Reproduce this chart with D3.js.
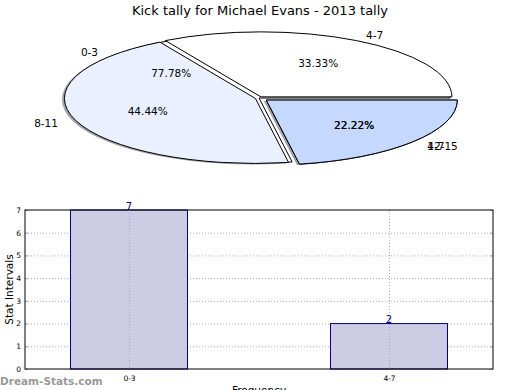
<!DOCTYPE html>
<html>
<head>
<meta charset="utf-8">
<script src="https://cdn.jsdelivr.net/npm/d3@7"></script>
<style>
  body { margin: 0; background: #fff; }
  svg { display: block; font-family: "DejaVu Sans", sans-serif; }
</style>
</head>
<body>
<div id="chart"></div>
<script>
// pie, first layer (kick counts)
var pieALabels = ["0-3", "4-7"];
var pieAValues = [7, 2];
var pieAExplode = [0, 0.05];
var pieAColors = ["#ffffff", "#eaf0ff"];

// pie, second layer
var pieBLabels = ["4-7", "8-11", "12-15"];
var pieBValues = [3, 4, 2];
var pieBExplode = [0.02, 0.02, 0.05];
var pieBColors = ["#ffffff", "#eaf0ff", "#c5d8ff"];

// bar chart
var barLabels = ["0-3", "4-7"];
var barValues = [7, 2];
var yTicks = [0, 1, 2, 3, 4, 5, 6, 7];

var width = 520, height = 390;

var svg = d3.select("#chart").append("svg")
    .attr("width", width)
    .attr("height", height);

svg.append("text")
    .attr("x", 260).attr("y", 15)
    .attr("text-anchor", "middle")
    .style("font-size", "13px")
    .text("Kick tally for Michael Evans - 2013 tally");

// ---- pie ----
var cx = 259, cy = 98, rx = 191, ry = 65;

var pie = d3.pie().sort(null)
    .startAngle(Math.PI / 2)
    .endAngle(Math.PI / 2 - 2 * Math.PI);

var arc = d3.arc().innerRadius(0).outerRadius(rx);

function layer(labels, values, explode, colors, shadow) {
  return pie(values).map(function(d, i) {
    var m = (d.startAngle + d.endAngle) / 2;
    var e = explode[i];
    return {
      arc: d, label: labels[i], color: colors[i], mid: m, shadow: shadow,
      ox: cx + Math.sin(m) * rx * e,
      oy: cy - Math.cos(m) * ry * e,
      pct: d3.format(".2f")(100 * d.value / d3.sum(values)) + "%"
    };
  });
}

var wedges = layer(pieALabels, pieAValues, pieAExplode, pieAColors, false)
  .concat(layer(pieBLabels, pieBValues, pieBExplode, pieBColors, true));

var gPie = svg.append("g");

// shadows first, then wedges, then texts
gPie.selectAll(".shadow")
    .data(wedges.filter(function(d) { return d.shadow; }))
  .enter().append("path")
    .attr("class", "shadow")
    .attr("transform", function(d) {
      return "translate(" + (d.ox - 2.5) + "," + (d.oy + 1) + ") scale(1," + (ry / rx) + ")";
    })
    .attr("d", function(d) { return arc(d.arc); })
    .attr("fill", function(d) {
      var c = d3.rgb(d.color);
      return d3.rgb(c.r * 0.3, c.g * 0.3, c.b * 0.3);
    })
    .attr("opacity", 0.5);

gPie.selectAll(".wedge")
    .data(wedges)
  .enter().append("path")
    .attr("class", "wedge")
    .attr("transform", function(d) {
      return "translate(" + d.ox + "," + d.oy + ") scale(1," + (ry / rx) + ")";
    })
    .attr("d", function(d) { return arc(d.arc); })
    .attr("fill", function(d) { return d.color; })
    .attr("stroke", "#000")
    .attr("stroke-width", 1)
    .attr("vector-effect", "non-scaling-stroke");

gPie.selectAll(".plabel")
    .data(wedges)
  .enter().append("text")
    .attr("class", "plabel")
    .attr("x", function(d) { return d.ox + Math.sin(d.mid) * rx * 1.1; })
    .attr("y", function(d) { return d.oy - Math.cos(d.mid) * ry * 1.1; })
    .attr("dy", "0.35em")
    .attr("text-anchor", function(d) { return Math.sin(d.mid) > 0 ? "start" : "end"; })
    .style("font-size", "10.5px")
    .text(function(d) { return d.label; });

gPie.selectAll(".pct")
    .data(wedges)
  .enter().append("text")
    .attr("class", "pct")
    .attr("x", function(d) { return d.ox + Math.sin(d.mid) * rx * 0.6; })
    .attr("y", function(d) { return d.oy - Math.cos(d.mid) * ry * 0.6; })
    .attr("dy", "0.35em")
    .attr("text-anchor", "middle")
    .style("font-size", "10.5px")
    .text(function(d) { return d.pct; });

// ---- bars ----
var pLeft = 25, pRight = 493, pTop = 210, pBottom = 369;

var x = d3.scaleLinear().domain([-0.4, 1.4]).range([pLeft, pRight]);
var y = d3.scaleLinear().domain([0, 7]).range([pBottom, pTop]);
var barW = x(0.45) - x(0);

var gBar = svg.append("g");

// horizontal grid
gBar.selectAll(".hgrid")
    .data(yTicks.slice(1, -1))
  .enter().append("line")
    .attr("x1", pLeft).attr("x2", pRight)
    .attr("y1", function(d) { return y(d) + 0.5; })
    .attr("y2", function(d) { return y(d) + 0.5; })
    .attr("stroke", "#aaa")
    .attr("stroke-dasharray", "1,2");

gBar.selectAll(".bar")
    .data(barValues)
  .enter().append("rect")
    .attr("x", function(d, i) { return x(i) - barW / 2; })
    .attr("y", function(d) { return y(d); })
    .attr("width", barW)
    .attr("height", function(d) { return pBottom - y(d); })
    .attr("fill", "#ccccE4")
    .attr("stroke", "#000080")
    .attr("stroke-width", 1);

// vertical grid at the category ticks
gBar.selectAll(".vgrid")
    .data(barLabels)
  .enter().append("line")
    .attr("x1", function(d, i) { return x(i) + 0.5; })
    .attr("x2", function(d, i) { return x(i) + 0.5; })
    .attr("y1", pTop).attr("y2", pBottom)
    .attr("stroke", "#aaa")
    .attr("stroke-dasharray", "1,2");

gBar.selectAll(".val")
    .data(barValues)
  .enter().append("text")
    .attr("x", function(d, i) { return x(i); })
    .attr("y", function(d) { return y(d) - 0.5; })
    .attr("text-anchor", "middle")
    .attr("fill", "#000080")
    .style("font-size", "10px")
    .text(function(d) { return d; });

// axes with inside ticks
var yAxis = d3.axisLeft(y).tickValues(yTicks).tickSize(-3).tickPadding(4).tickFormat(d3.format("d"));
var yAxisR = d3.axisRight(y).tickValues(yTicks).tickSize(-3).tickFormat("");
var xAxis = d3.axisBottom(x).tickValues([0, 1]).tickSize(-3).tickPadding(7)
    .tickFormat(function(d) { return barLabels[d]; });

function styleAxis(g) {
  g.select(".domain").remove();
  g.selectAll(".tick line").attr("stroke", "#aaa");
  g.selectAll(".tick text").style("font-size", "7.5px").attr("fill", "#000")
    .style("font-family", "DejaVu Sans, sans-serif");
}

gBar.append("g").attr("transform", "translate(" + pLeft + ",0)").call(yAxis).call(styleAxis);
gBar.append("g").attr("transform", "translate(" + pRight + ",0)").call(yAxisR).call(styleAxis);
gBar.append("g").attr("transform", "translate(0," + pBottom + ")").call(xAxis).call(styleAxis);

gBar.append("rect")
    .attr("x", pLeft).attr("y", pTop)
    .attr("width", pRight - pLeft).attr("height", pBottom - pTop)
    .attr("fill", "none")
    .attr("stroke", "#000")
    .attr("stroke-width", 1);

svg.append("text")
    .attr("transform", "translate(13," + ((pTop + pBottom) / 2) + ") rotate(-90)")
    .attr("text-anchor", "middle")
    .style("font-size", "10.5px")
    .text("Stat Intervals");

svg.append("text")
    .attr("x", 259).attr("y", 394)
    .attr("text-anchor", "middle")
    .style("font-size", "10.5px")
    .text("Frequency");

svg.append("text")
    .attr("x", 0).attr("y", 385)
    .attr("fill", "#999")
    .style("font-size", "10.5px")
    .style("font-weight", "bold")
    .text("Dream-Stats.com");
</script>
</body>
</html>
